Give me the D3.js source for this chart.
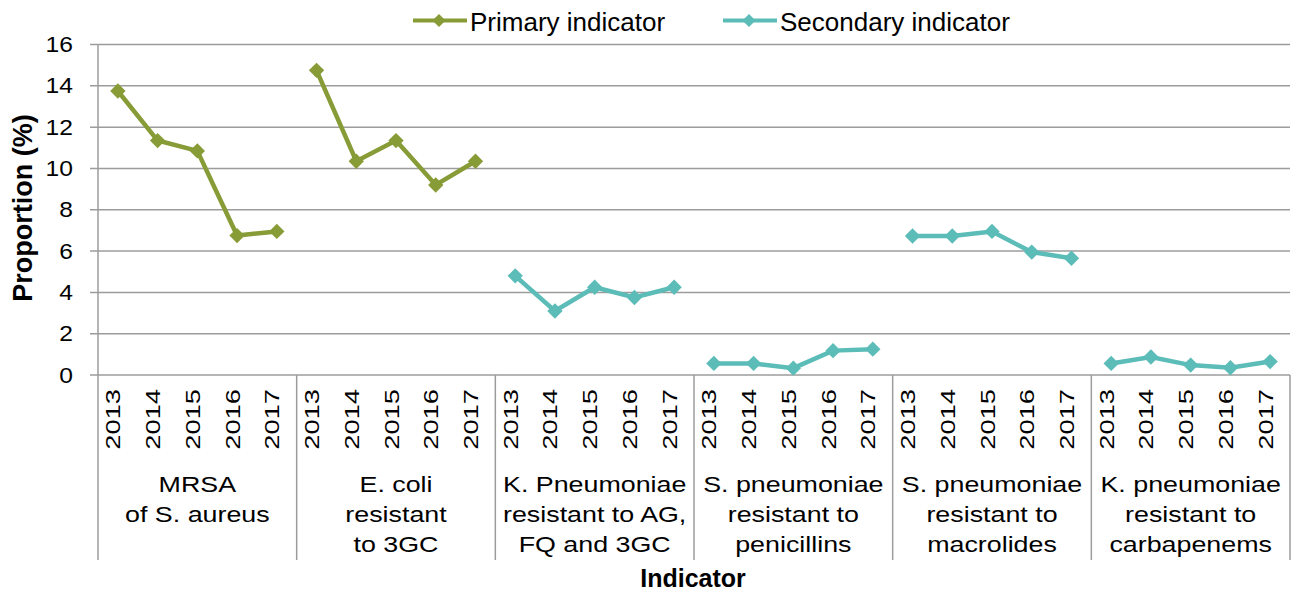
<!DOCTYPE html>
<html>
<head>
<meta charset="utf-8">
<script src="https://cdn.jsdelivr.net/npm/d3@7"></script>
<style>
  body { margin: 0; background: #fff; }
  text { font-family: "Liberation Sans", Arial, sans-serif; fill: #000; }
</style>
</head>
<body>
<script>
var years = ["2013", "2014", "2015", "2016", "2017"];
var groups = [
  ["MRSA", "of S. aureus"],
  ["E. coli", "resistant", "to 3GC"],
  ["K. Pneumoniae", "resistant to AG,", "FQ and 3GC"],
  ["S. pneumoniae", "resistant to", "penicillins"],
  ["S. pneumoniae", "resistant to", "macrolides"],
  ["K. pneumoniae", "resistant to", "carbapenems"]
];
var groupSeries = ["Primary indicator", "Primary indicator", "Secondary indicator",
                   "Secondary indicator", "Secondary indicator", "Secondary indicator"];
var mrsa = [13.75, 11.35, 10.85, 6.75, 6.95];
var ecoli = [14.75, 10.35, 11.35, 9.2, 10.35];
var kpneuAgFq = [4.8, 3.1, 4.25, 3.75, 4.25];
var spneuPen = [0.56, 0.56, 0.33, 1.18, 1.25];
var spneuMac = [6.73, 6.73, 6.95, 5.95, 5.65];
var kpneuCarb = [0.56, 0.87, 0.48, 0.35, 0.65];
var values = [mrsa, ecoli, kpneuAgFq, spneuPen, spneuMac, kpneuCarb];
var seriesNames = ["Primary indicator", "Secondary indicator"];
var yTicks = [0, 2, 4, 6, 8, 10, 12, 14, 16];

var width = 1292, height = 593,
    margin = {top: 44.5, right: 2, bottom: 218, left: 98},
    color = d3.scaleOrdinal().domain(seriesNames).range(["#879B37", "#5BBCB8"]);

var svg = d3.select("body").append("svg")
    .attr("width", width)
    .attr("height", height);

var x0 = d3.scaleBand().domain(d3.range(groups.length))
    .range([margin.left, width - margin.right]);
var x1 = d3.scaleBand().domain(years).range([0, x0.bandwidth()]);
var y = d3.scaleLinear().domain([0, 16]).range([height - margin.bottom, margin.top]);

var grid = "#9c9c9c";

// gridlines
svg.append("g").selectAll("line")
    .data(yTicks)
  .enter().append("line")
    .attr("x1", margin.left - 8)
    .attr("x2", width - margin.right)
    .attr("y1", (d) => y(d))
    .attr("y2", (d) => y(d))
    .attr("stroke", grid)
    .attr("stroke-width", 1.5);

svg.append("g").selectAll("text")
    .data(yTicks)
  .enter().append("text")
    .attr("transform", (d) => "translate(73," + (y(d) + 7.5) + ") scale(1.12,1)")
    .attr("text-anchor", "end")
    .style("font-size", "22px")
    .text((d) => d);

// y axis and group separators
var bottom = 560;
svg.append("line")
    .attr("x1", margin.left).attr("x2", margin.left)
    .attr("y1", margin.top).attr("y2", bottom)
    .attr("stroke", grid).attr("stroke-width", 1.5);

svg.append("g").selectAll("line")
    .data(d3.range(1, groups.length + 1))
  .enter().append("line")
    .attr("x1", (i) => x0(i - 1) + x0.bandwidth())
    .attr("x2", (i) => x0(i - 1) + x0.bandwidth())
    .attr("y1", y(0))
    .attr("y2", bottom)
    .attr("stroke", grid)
    .attr("stroke-width", 1.5);

// year labels
var g = svg.append("g").selectAll("g")
    .data(groups)
  .enter().append("g")
    .attr("transform", (d, i) => "translate(" + x0(i) + ",0)");

g.selectAll(".year")
    .data(years)
  .enter().append("text")
    .attr("class", "year")
    .attr("transform", (d) => "translate(" + (x1(d) + x1.bandwidth() / 2 + 2.5) + ",389) rotate(-90) scale(1.3,1)")
    .attr("text-anchor", "end")
    .style("font-size", "21px")
    .text((d) => d);

g.selectAll(".glabel")
    .data((d) => d)
  .enter().append("text")
    .attr("class", "glabel")
    .attr("transform", (d, i) => "translate(" + (x0.bandwidth() / 2) + "," + (492 + i * 30) + ") scale(1.22,1)")
    .attr("text-anchor", "middle")
    .style("font-size", "22px")
    .text((d) => d);

// lines and markers
var line = d3.line()
    .x((d, i) => x1(years[i]) + x1.bandwidth() / 2)
    .y((d) => y(d));

var diamond = d3.symbol().type(d3.symbolDiamond2).size(150);

g.append("path")
    .attr("d", (d, i) => line(values[i]))
    .attr("fill", "none")
    .attr("stroke", (d, i) => color(groupSeries[i]))
    .attr("stroke-width", 4.5);

g.each(function(d, gi) {
  d3.select(this).selectAll(".pt")
      .data(values[gi])
    .enter().append("path")
      .attr("class", "pt")
      .attr("d", diamond)
      .attr("transform", (v, i) => "translate(" + (x1(years[i]) + x1.bandwidth() / 2) + "," + y(v) + ")")
      .attr("fill", color(groupSeries[gi]));
});

// axis titles
svg.append("text")
    .attr("transform", "translate(31.5,208) rotate(-90)")
    .attr("text-anchor", "middle")
    .style("font-size", "27px")
    .style("font-weight", "bold")
    .text("Proportion (%)");

svg.append("text")
    .attr("x", 693)
    .attr("y", 587)
    .attr("text-anchor", "middle")
    .style("font-size", "25px")
    .style("font-weight", "bold")
    .text("Indicator");

// legend
var legendX = [413, 723];
var legend = svg.append("g").selectAll("g")
    .data(seriesNames)
  .enter().append("g")
    .attr("transform", (d, i) => "translate(" + legendX[i] + ",20.5)");

legend.append("line")
    .attr("x1", 0).attr("x2", 54)
    .attr("stroke", (d) => color(d))
    .attr("stroke-width", 4);

legend.append("path")
    .attr("d", d3.symbol().type(d3.symbolDiamond2).size(110))
    .attr("transform", "translate(26,0)")
    .attr("fill", (d) => color(d));

legend.append("text")
    .attr("x", 57)
    .attr("y", 10)
    .style("font-size", "26px")
    .text((d) => d);
</script>
</body>
</html>
